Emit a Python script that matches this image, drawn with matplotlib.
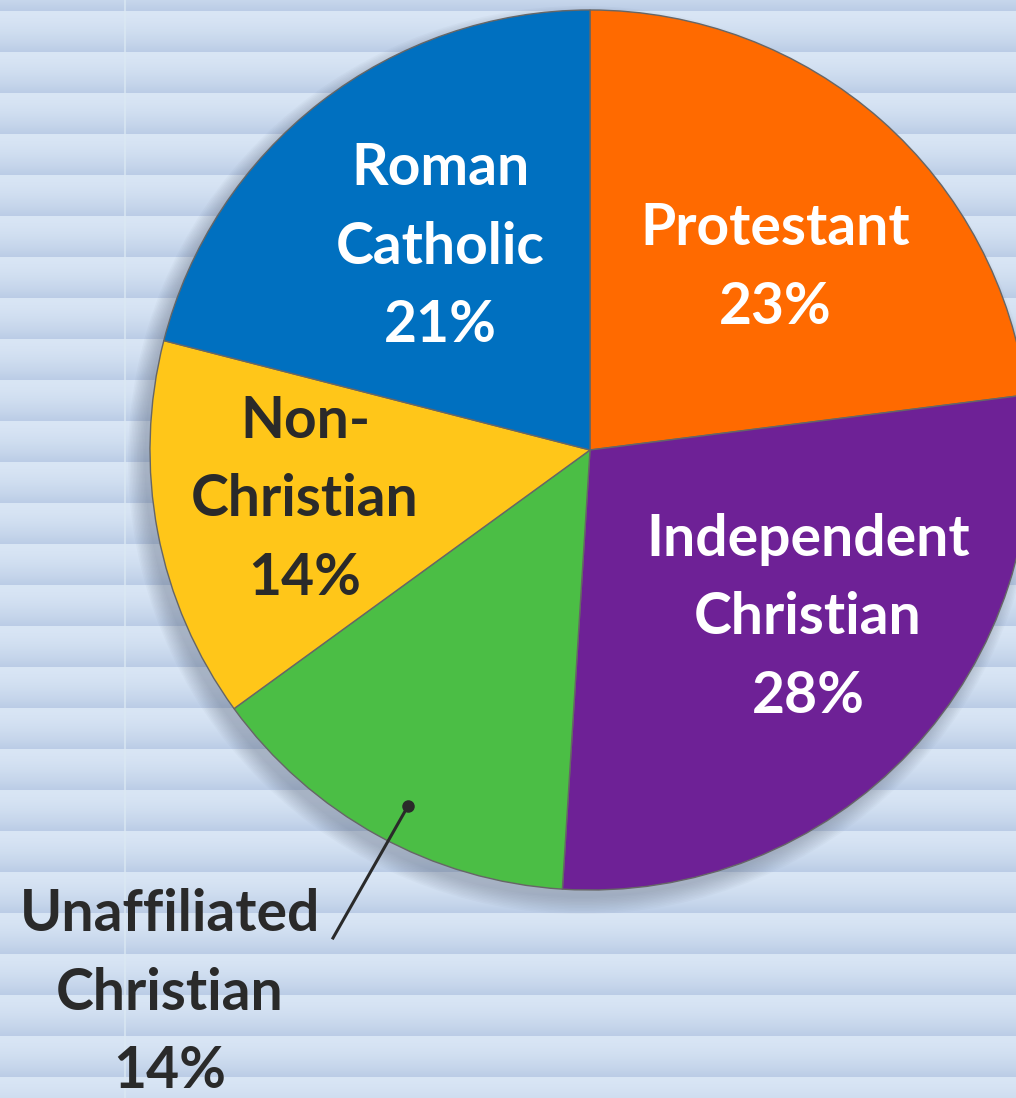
import matplotlib.pyplot as plt
import numpy as np
from matplotlib.patches import Circle

# data
labels = ['Protestant\n23%', 'Independent\nChristian\n28%', 'Unaffiliated\nChristian\n14%',
          'Non-\nChristian\n14%', 'Roman\nCatholic\n21%']
shares = [23, 28, 14, 14, 21]
colors = ['#FF6A00', '#6E2196', '#4BBE45', '#FFC619', '#0070C0']
text_colors = ['white', 'white', '#2a2a2a', '#2a2a2a', 'white']

W, H = 1016, 1098
fig = plt.figure(figsize=(W / 100, H / 100), dpi=100)
ax = fig.add_axes([0, 0, 1, 1])

# striped background
period = 41.0
yy = np.arange(H)
phase = ((yy + 30) % period) / period
light = np.array([0.85, 0.90, 0.96])
dark = np.array([0.73, 0.80, 0.90])
t = np.clip(phase ** 1.6, 0, 1)
col = light[None, :] * (1 - t[:, None]) + dark[None, :] * t[:, None]
bg = np.repeat(col[:, None, :], W, axis=1)
ax.imshow(bg, extent=[0, W, 0, H], origin='upper', zorder=0, aspect='auto')
ax.axvline(125, color='#dbe9f3', lw=1.5, alpha=0.7, zorder=0.5)

cx, cy, r = 590, H - 450, 440

# soft shadow
for i in range(12):
    ax.add_patch(Circle((cx - 8, cy - 10), r + 14 - i * 1.5, color='#5a6478',
                        alpha=0.035, lw=0, zorder=1))

ax.pie(shares, colors=colors, startangle=90, counterclock=False,
       center=(cx, cy), radius=r, frame=True,
       wedgeprops=dict(linewidth=1, edgecolor='#666666'))

font = ['Lato', 'DejaVu Sans']
pos = [(775, 268), (808, 618), (170, 993), (305, 500), (440, 247)]
for lab, (x, y), tc in zip(labels, pos, text_colors):
    ax.text(x, H - y, lab, ha='center', va='center', color=tc, fontsize=41,
            fontweight='bold', family=font, linespacing=1.6, zorder=5)

# leader line for the unaffiliated slice
ax.plot([333, 408], [H - 938, H - 806], color='#2a2a2a', lw=2.2, zorder=5)
ax.plot([408], [H - 806], 'o', color='#2a2a2a', ms=8, zorder=5)

ax.set_xlim(0, W)
ax.set_ylim(0, H)
ax.set_aspect('auto')
ax.axis('off')
fig.savefig('out.png', dpi=100)
